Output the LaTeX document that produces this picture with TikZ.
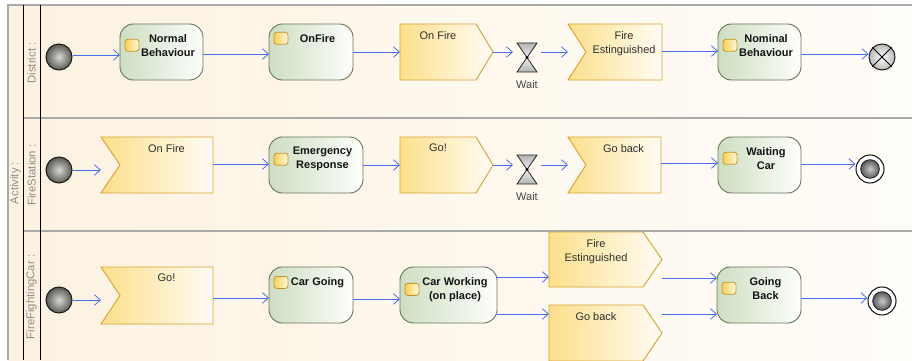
\documentclass[tikz,border=0pt]{standalone}
\usepackage{fontspec}
\setmainfont{Liberation Sans}
\usetikzlibrary{arrows.meta,calc}

\definecolor{lanebgL}{RGB}{253,242,225}
\definecolor{lanebgR}{RGB}{255,253,249}
\definecolor{framegray}{RGB}{170,170,170}
\definecolor{actL}{RGB}{206,222,194}
\definecolor{actR}{RGB}{253,254,252}
\definecolor{actline}{RGB}{105,120,88}
\definecolor{sigL}{RGB}{253,224,140}
\definecolor{sigR}{RGB}{255,252,245}
\definecolor{sigline}{RGB}{214,162,52}
\definecolor{flowblue}{RGB}{72,110,235}
\definecolor{lanetext}{RGB}{140,140,140}
\definecolor{icoL}{RGB}{246,208,88}
\definecolor{icoR}{RGB}{255,249,220}
\definecolor{icoline}{RGB}{198,150,40}
\definecolor{initC}{RGB}{218,218,212}
\definecolor{initE}{RGB}{88,88,85}

\tikzset{
  txt/.style={font=\fontsize{8.25}{10.5}\selectfont, align=center, inner sep=0pt},
  acttext/.style={txt, font=\fontsize{8.25}{10.5}\selectfont\bfseries, text=black!92},
  sigtext/.style={txt, text=black!82},
  lanelabel/.style={txt, font=\fontsize{8.5}{10.5}\selectfont, text=lanetext, rotate=90},
  action/.style={draw=actline, line width=0.7pt, rounded corners=10pt,
    left color=actL, right color=actR, inner sep=0pt, outer sep=0pt},
  icon/.style={draw=icoline, line width=0.6pt, rounded corners=2pt,
    left color=icoL, right color=icoR, minimum width=10.5pt,
    minimum height=9pt, inner sep=0pt},
  signal/.style={draw=sigline, line width=0.7pt, left color=sigL, right color=sigR},
  holder/.style={inner sep=0pt, outer sep=0pt},
  hgtop/.style={draw=black!85, line width=0.6pt, top color=gray!60, bottom color=gray!10},
  hgbot/.style={draw=black!85, line width=0.6pt, top color=gray!10, bottom color=gray!60},
  initnode/.style={circle, draw=black!90, line width=0.75pt, inner sep=0pt,
    minimum size=19.5pt, inner color=initC, outer color=initE},
  finring/.style={circle, draw=black!90, line width=0.8pt, fill=white,
    inner sep=0pt, minimum size=21pt},
  fincore/.style={circle, draw=black!90, line width=0.6pt, inner sep=0pt,
    minimum size=14pt, inner color=gray!40, outer color=black!65},
  flowfin/.style={circle, draw=black!90, line width=0.75pt, inner sep=0pt,
    minimum size=19.5pt, inner color=white, outer color=gray!55},
  flow/.style={draw=flowblue, line width=0.6pt,
    -{Straight Barb[length=4.5pt,width=8pt]}},
}

% action box: name, left, top, right, bottom, text
\newcommand\actbox[6]{%
  \node[action, minimum width={(#4-#2)*0.75pt}, minimum height={(#5-#3)*0.75pt}]
    (#1) at ({(#2+#4)/2},{(#3+#5)/2}) {};
  \node[acttext, anchor=north] (#1-t) at ($(#1.north)+(6.5,10)$) {#6};
  \node[icon] (#1-i) at ($(#1.west |- #1-t.center)+(12,0)$) {};
}
% send signal: name, left, top, tip x, bottom, point depth, text
\newcommand\sendsig[7]{%
  \node[holder, minimum width={(#4-#2)*0.75pt}, minimum height={(#5-#3)*0.75pt}]
    (#1) at ({(#2+#4)/2},{(#3+#5)/2}) {};
  \path[signal] (#1.north west) -- ($(#1.north east)+(-#6,0)$) -- (#1.east)
    -- ($(#1.south east)+(-#6,0)$) -- (#1.south west) -- cycle;
  \node[sigtext, anchor=north] (#1-t) at ($(#1.north)+(-#6/2,7)$) {#7};
}
% accept signal: name, left, top, right, bottom, notch depth, text
\newcommand\recvsig[7]{%
  \node[holder, minimum width={(#4-#2)*0.75pt}, minimum height={(#5-#3)*0.75pt}]
    (#1) at ({(#2+#4)/2},{(#3+#5)/2}) {};
  \path[signal] (#1.north west) -- (#1.north east) -- (#1.south east)
    -- (#1.south west) -- ($(#1.west)+(#6,0)$) -- cycle;
  \node[sigtext, anchor=north] (#1-t) at ($(#1.north)+(#6/2,7)$) {#7};
}
% wait (hourglass): name, centre x, centre y
\newcommand\waitnode[3]{%
  \node[holder, minimum width=21pt, minimum height=21.75pt] (#1) at (#2,#3) {};
  \path[hgtop] ($(#1.center)+(-10,-14.5)$) -- ($(#1.center)+(10,-14.5)$) -- (#1.center) -- cycle;
  \path[hgbot] (#1.center) -- ($(#1.center)+(10,14.5)$) -- ($(#1.center)+(-10,14.5)$) -- cycle;
  \fill[black] (#1.center) circle (1.3pt);
  \node[txt, text=black!72, anchor=north] (#1-l) at ($(#1.center)+(0,23)$) {Wait};
}

\begin{document}
\begin{tikzpicture}[x=0.75pt, y=-0.75pt]
\useasboundingbox (0,0) rectangle (912,360);

% swimlane frame
\fill[white] (0,0) rectangle (912,360);
\fill[left color=lanebgL, right color=lanebgR] (8,5) rectangle (912,360);
\draw[framegray, line width=0.8pt] (8,360) -- (8,5) -- (912,5);
\draw[framegray, line width=0.8pt] (23,118) -- (912,118);
\draw[framegray, line width=0.8pt] (23,231) -- (912,231);
\draw[black, line width=0.7pt] (23,5) -- (23,360);
\draw[black, line width=0.7pt] (40,5) -- (40,360);

\node[lanelabel] (actlab) at (15.5,183) {Activity :};
\node[lanelabel] (lane1) at (31.5,63) {District :};
\node[lanelabel] (lane2) at (31.5,175) {FireStation :};
\node[lanelabel] (lane3) at (31.5,297) {FireFightingCar :};

% ---- District lane
\node[initnode] (i1) at (59,57) {};
\actbox{a1}{120}{24}{203}{80}{Normal\\Behaviour}
\actbox{a2}{269}{24}{353}{80}{OnFire}
\sendsig{s1}{400}{24}{493}{80}{17}{On Fire}
\waitnode{h1}{527}{57.5}
\recvsig{r1}{568}{24}{662}{80}{18}{Fire\\Estinguished}
\actbox{a3}{718}{24}{801}{80}{Nominal\\Behaviour}
\node[flowfin] (f1) at (882,57) {};
\draw[black, line width=0.75pt] (f1.north west) -- (f1.south east)
  (f1.north east) -- (f1.south west);

\draw[flow] (i1.east |- 0,55) -- (a1.west |- 0,55);
\draw[flow] (a1.east |- 0,54) -- (a2.west |- 0,54);
\draw[flow] (a2.east |- 0,52) -- (s1.west |- 0,52);
\draw[flow] (s1.east |- 0,52) -- (h1.west |- 0,52);
\draw[flow] (h1.east |- 0,52) -- (r1.west |- 0,52);
\draw[flow] (r1.east |- 0,51) -- (a3.west |- 0,51);
\draw[flow] (a3.east |- 0,54) -- (f1.west |- 0,54);

% ---- FireStation lane
\node[initnode] (i2) at (59,170) {};
\recvsig{r2}{101}{137}{213}{193}{19}{On Fire}
\actbox{a4}{269}{137}{363}{193}{Emergency\\Response}
\sendsig{s2}{400}{137}{493}{193}{17}{Go!}
\waitnode{h2}{527}{169.5}
\recvsig{r3}{568}{137}{661}{193}{18}{Go back}
\actbox{a5}{718}{137}{801}{193}{Waiting\\Car}
\node[finring] (f2) at (870,169) {};
\node[fincore] (f2c) at (f2.center) {};

\draw[flow] (i2.east |- 0,170) -- (r2.west |- 0,170);
\draw[flow] (r2.east |- 0,164) -- (a4.west |- 0,164);
\draw[flow] (a4.east |- 0,165) -- (s2.west |- 0,165);
\draw[flow] (s2.east |- 0,165) -- (h2.west |- 0,165);
\draw[flow] (h2.east |- 0,165) -- (r3.west |- 0,165);
\draw[flow] (r3.east |- 0,163) -- (a5.west |- 0,163);
\draw[flow] (a5.east |- 0,164) -- (f2.west |- 0,164);

% ---- FireFightingCar lane
\node[initnode] (i3) at (59,300) {};
\recvsig{r4}{101}{267}{213}{324}{19}{Go!}
\actbox{a6}{269}{267}{353}{323}{Car Going}
\actbox{a7}{400}{267}{497}{323}{Car Working\\(on place)}
\sendsig{s3}{549}{232}{662}{287}{19}{Fire\\Estinguished}
\sendsig{s4}{549}{305}{662}{361}{19}{Go back}
\actbox{a8}{717}{267}{801}{323}{Going\\Back}
\node[finring] (f3) at (882,301) {};
\node[fincore] (f3c) at (f3.center) {};

\draw[flow] (i3.east |- 0,300) -- (r4.west |- 0,300);
\draw[flow] (r4.east |- 0,298) -- (a6.west |- 0,298);
\draw[flow] (a6.east |- 0,299) -- (a7.west |- 0,299);
\draw[flow] (a7.east |- 0,277) -- (s3.west |- 0,277);
\draw[flow] (a7.east |- 0,314) -- (s4.west |- 0,314);
\draw[flow] (s3.east |- 0,278) -- (a8.west |- 0,278);
\draw[flow] (s4.east |- 0,314) -- (a8.west |- 0,314);
\draw[flow] (a8.east |- 0,298) -- (f3.west |- 0,298);
\end{tikzpicture}
\end{document}
